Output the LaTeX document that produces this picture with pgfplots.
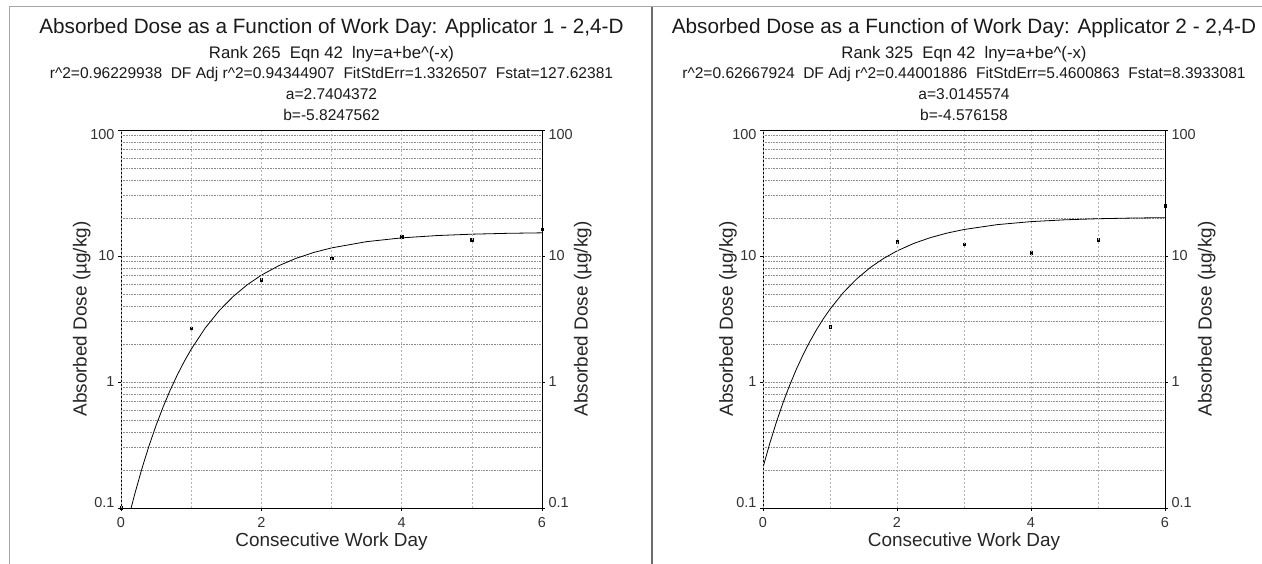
\documentclass[border=0pt]{standalone}
\usepackage{fontspec}
\setmainfont{Liberation Sans}
\usepackage{pgfplots}
\usepackage{pgfplotstable}
\pgfplotsset{compat=1.18}

% measured points
\pgfplotstableread{
x y
0 0.1
1 2.67
2 6.45
3 9.6
4 14.2
5 13.4
6 16.3
}\ptsA
\pgfplotstableread{
x y
1 2.75
2 12.98
3 12.38
4 10.6
5 13.4
6 25.1
}\ptsB
% fitted curve lny=a+be^(-x), tabulated
\pgfplotstableread{
x y
0.144 0.1
0.2 0.1315
0.3 0.2071
0.4 0.3122
0.5 0.4527
0.6 0.6336
0.7 0.8589
0.8 1.1311
0.9 1.4510
1.0 1.8177
1.2 2.6805
1.4 3.6840
1.6 4.7799
1.8 5.9155
2.0 7.0437
2.25 8.3858
2.5 9.606
2.75 10.677
3.0 11.594
3.5 12.995
4.0 13.926
4.5 14.523
5.0 14.898
5.5 15.130
6.0 15.272
}\fitA
\pgfplotstableread{
x y
0.0 0.2098
0.1 0.3243
0.2 0.4810
0.3 0.6870
0.4 0.9485
0.5 1.2700
0.6 1.6540
0.7 2.1005
0.8 2.6075
0.9 3.1711
1.0 3.7852
1.2 5.1362
1.4 6.5940
1.6 8.0907
1.8 9.5663
2.0 10.971
2.25 12.583
2.5 14.000
2.75 15.213
3.0 16.229
3.5 17.751
4.0 18.741
4.5 19.370
5.0 19.761
5.5 20.003
6.0 20.150
}\fitB

\newcommand\titlefont{\fontsize{20.8}{24}\selectfont}
\newcommand\rankfont{\fontsize{16.8}{19}\selectfont}
\newcommand\statfont{\fontsize{15.6}{18}\selectfont}
\newcommand\tickfont{\fontsize{14.5}{16}\selectfont}
\newcommand\labfont{\fontsize{19}{22}\selectfont}
\newcommand\lo{\raisebox{5bp}[\height][\depth]{0.1}}
\newcommand\hi{\raisebox{-5bp}[\height][\depth]{100}}

\begin{document}
\begin{tikzpicture}[x=1bp, y=1bp]
\useasboundingbox (0,0) rectangle (1262,564);
% panel frames
\draw[gray!70, line width=1bp] (9,0) -- (9,557) -- (1262,557);
\draw[gray!85!black, line width=2.5bp] (652,0) -- (652,557);

% left panel: main axis with y grid, curve and points
\begin{axis}[scale only axis, width=421bp, height=378bp, at={(121bp,56bp)}, anchor=south west,
  ymode=log, ymin=0.1, ymax=100, xmin=0, xmax=6,
  ytick={0.1,1,10,100}, yticklabels={\lo,1,10,\hi},
  xtick={0,2,4,6}, xticklabels={0,2,4,6},
  xtick pos=left, ytick pos=left,
  ymajorgrids, yminorgrids,
  grid style={gray!90, dash pattern=on 1bp off 0.6bp, line width=0.8bp},
  axis line style={black, line width=0.8bp},
  tick style={black, line width=0.6bp},
  tick align=outside, major tick length=3bp, minor tick length=0bp,
  ticklabel style={font=\tickfont, text=black!80},
  xticklabel style={yshift=-3bp},
  label style={font=\labfont, text=black!85},
  xlabel={Consecutive Work Day},
  xlabel style={at={(axis description cs:0.5,-0.09)}, anchor=center},
  ylabel={Absorbed Dose (µg/kg)},
  ylabel style={at={(axis description cs:-0.093,0.5)}, anchor=center}]
\addplot[black, line width=0.8bp, no markers] table[x=x, y=y] {\fitA};
\addplot[black, only marks, mark=square*, mark size=1.3bp] table[x=x, y=y] {\ptsA};
\end{axis}
% left panel: overlay with x grid and right y axis
\begin{axis}[scale only axis, width=421bp, height=378bp, at={(121bp,56bp)}, anchor=south west,
  ymode=log, ymin=0.1, ymax=100, xmin=0, xmax=6,
  axis y line*=right,
  ytick={0.1,1,10,100}, yticklabels={\lo,1,10,\hi},
  xtick={0,2,4,6}, minor xtick={1,3,5}, xticklabels={},
  xtick style={draw=none},
  xmajorgrids, xminorgrids,
  grid style={gray!60, dash pattern=on 2bp off 2bp, line width=0.6bp},
  axis line style={black, line width=0.8bp},
  tick style={black, line width=0.6bp},
  tick align=outside, major tick length=3bp, minor tick length=0bp,
  ticklabel style={font=\tickfont, text=black!80},
  label style={font=\labfont, text=black!85},
  ylabel={Absorbed Dose (µg/kg)},
  ylabel style={at={(axis description cs:1.097,0.5)}, anchor=center}]
\end{axis}
\node[font=\titlefont, anchor=base, text=black!90] at (331.5,530) {Absorbed Dose as a Function of Work Day: Applicator 1 - 2,4-D};
\node[font=\rankfont, anchor=base, text=black!90] at (331.5,505) {Rank 265\ \ Eqn 42\ \ lny=a+be\textasciicircum(-x)};
\node[font=\statfont, anchor=base, text=black!90] at (331.5,485) {r\textasciicircum2=0.96229938\ \ DF Adj r\textasciicircum2=0.94344907\ \ FitStdErr=1.3326507\ \ Fstat=127.62381};
\node[font=\statfont, anchor=base, text=black!90] at (331.5,464) {a=2.7404372};
\node[font=\statfont, anchor=base, text=black!90] at (331.5,443) {b=-5.8247562};

% right panel: main axis
\begin{axis}[scale only axis, width=402bp, height=378bp, at={(763bp,56bp)}, anchor=south west,
  ymode=log, ymin=0.1, ymax=100, xmin=0, xmax=6,
  ytick={0.1,1,10,100}, yticklabels={\lo,1,10,\hi},
  xtick={0,2,4,6}, xticklabels={0,2,4,6},
  xtick pos=left, ytick pos=left,
  ymajorgrids, yminorgrids,
  grid style={gray!90, dash pattern=on 1bp off 0.6bp, line width=0.8bp},
  axis line style={black, line width=0.8bp},
  tick style={black, line width=0.6bp},
  tick align=outside, major tick length=3bp, minor tick length=0bp,
  ticklabel style={font=\tickfont, text=black!80},
  xticklabel style={yshift=-3bp},
  label style={font=\labfont, text=black!85},
  xlabel={Consecutive Work Day},
  xlabel style={at={(axis description cs:0.5,-0.09)}, anchor=center},
  ylabel={Absorbed Dose (µg/kg)},
  ylabel style={at={(axis description cs:-0.087,0.5)}, anchor=center}]
\addplot[black, line width=0.8bp, no markers] table[x=x, y=y] {\fitB};
\addplot[black, only marks, mark=square*, mark size=1.3bp] table[x=x, y=y] {\ptsB};
\end{axis}
% right panel: overlay
\begin{axis}[scale only axis, width=402bp, height=378bp, at={(763bp,56bp)}, anchor=south west,
  ymode=log, ymin=0.1, ymax=100, xmin=0, xmax=6,
  axis y line*=right,
  ytick={0.1,1,10,100}, yticklabels={\lo,1,10,\hi},
  xtick={0,2,4,6}, minor xtick={1,3,5}, xticklabels={},
  xtick style={draw=none},
  xmajorgrids, xminorgrids,
  grid style={gray!60, dash pattern=on 2bp off 2bp, line width=0.6bp},
  axis line style={black, line width=0.8bp},
  tick style={black, line width=0.6bp},
  tick align=outside, major tick length=3bp, minor tick length=0bp,
  ticklabel style={font=\tickfont, text=black!80},
  label style={font=\labfont, text=black!85},
  ylabel={Absorbed Dose (µg/kg)},
  ylabel style={at={(axis description cs:1.104,0.5)}, anchor=center}]
\end{axis}
\node[font=\titlefont, anchor=base, text=black!90] at (964,530) {Absorbed Dose as a Function of Work Day: Applicator 2 - 2,4-D};
\node[font=\rankfont, anchor=base, text=black!90] at (964,505) {Rank 325\ \ Eqn 42\ \ lny=a+be\textasciicircum(-x)};
\node[font=\statfont, anchor=base, text=black!90] at (964,485) {r\textasciicircum2=0.62667924\ \ DF Adj r\textasciicircum2=0.44001886\ \ FitStdErr=5.4600863\ \ Fstat=8.3933081};
\node[font=\statfont, anchor=base, text=black!90] at (964,464) {a=3.0145574};
\node[font=\statfont, anchor=base, text=black!90] at (964,443) {b=-4.576158};
\end{tikzpicture}
\end{document}
